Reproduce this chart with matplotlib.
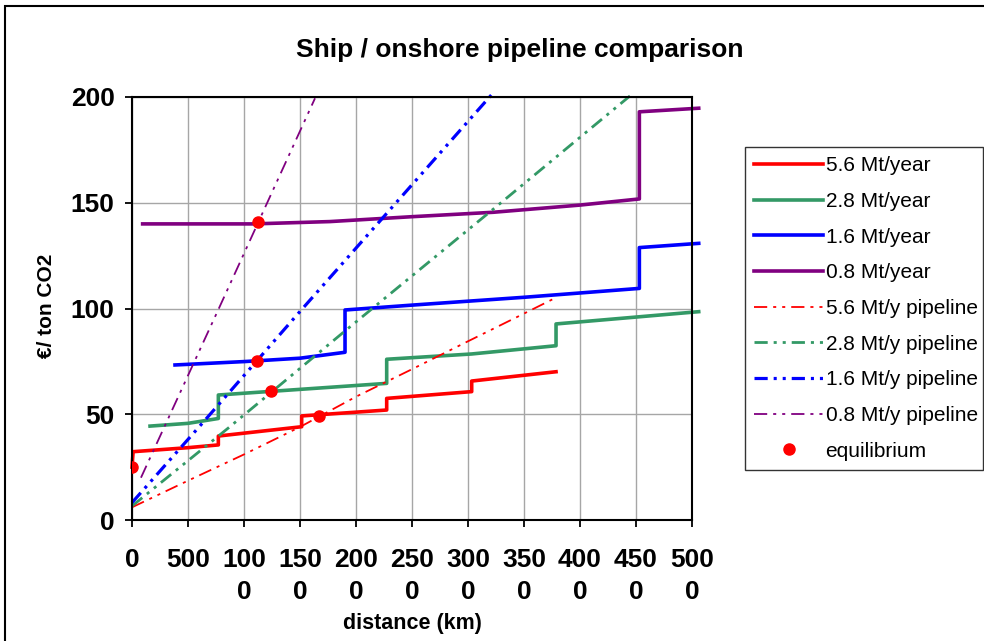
import matplotlib
matplotlib.use("Agg")
import matplotlib.pyplot as plt
from matplotlib.patches import Rectangle

plt.rcParams['font.family'] = ['Liberation Sans', 'DejaVu Sans']
plt.rcParams['lines.scale_dashes'] = False

# ship transport cost per capacity (step lines)
ship56_x = [0, 10, 500, 771, 771, 1515, 1515, 2274, 2274, 3033, 3033, 3786]
ship56_y = [25, 32.3, 34.2, 35.5, 39.7, 44.1, 49.2, 52.0, 57.5, 60.7, 65.7, 70.1]
ship28_x = [161, 500, 771, 771, 2274, 2274, 3033, 3786, 3786, 5060]
ship28_y = [44.4, 45.7, 48.0, 59.1, 64.6, 76.0, 78.5, 82.4, 92.7, 98.5]
ship16_x = [384, 1000, 1500, 1902, 1902, 2500, 3500, 4530, 4530, 5060]
ship16_y = [73.3, 74.9, 76.5, 79.3, 99.3, 101.6, 105.3, 109.5, 128.8, 130.8]
ship08_x = [95, 1083, 1768, 2497, 3226, 4000, 4530, 4530, 5060]
ship08_y = [140, 140, 141.1, 143.4, 145.5, 148.9, 151.8, 193, 194.7]

# onshore pipeline cost
pipe56_x = [0, 500, 1000, 1500, 2000, 2500, 3000, 3500, 3795]
pipe56_y = [6, 18.6, 31.0, 44.0, 58.3, 71.3, 84.5, 97.6, 105.4]
pipe28_x = [0, 860, 1916, 3226, 4446]
pipe28_y = [6.6, 43.5, 90.0, 147.0, 200.5]
pipe16_x = [0, 607, 1500, 3226]
pipe16_y = [8.2, 44.5, 98.6, 202]
pipe08_x = [80, 771, 1634]
pipe08_y = [20, 99.5, 199.4]

# equilibrium points
eq_x = [0, 1673, 1241, 1113, 1128]
eq_y = [25, 49.3, 61.1, 75.3, 141]

xticks = [0, 500, 1000, 1500, 2000, 2500, 3000, 3500, 4000, 4500, 5000]
xlabels = ['0', '500', '100\n0', '150\n0', '200\n0', '250\n0', '300\n0',
           '350\n0', '400\n0', '450\n0', '500\n0']
yticks = [0, 50, 100, 150, 200]

red = '#FF0000'
green = '#339966'
blue = '#0000FF'
purple = '#800080'
dash = (0, (9.5, 4.3, 2.2, 4.3, 2.2, 4.3))

fig = plt.figure(figsize=(9.84, 6.41), dpi=100)
fig.patches.append(Rectangle((5 / 984, -0.2), 1.2, 1.2 - 6 / 641,
                             transform=fig.transFigure, fill=False,
                             edgecolor='black', linewidth=1.5))
ax = fig.add_axes([132 / 984, 1 - 520 / 641, 560 / 984, 423 / 641])

ax.plot(ship56_x, ship56_y, color=red, lw=2.6, label='5.6 Mt/year', clip_on=False)
ax.plot(ship28_x, ship28_y, color=green, lw=2.6, label='2.8 Mt/year', clip_on=False)
ax.plot(ship16_x, ship16_y, color=blue, lw=2.6, label='1.6 Mt/year', clip_on=False)
ax.plot(ship08_x, ship08_y, color=purple, lw=2.6, label='0.8 Mt/year', clip_on=False)
ax.plot(pipe56_x, pipe56_y, color=red, lw=1.3, linestyle=dash,
        label='5.6 Mt/y pipeline', clip_on=False)
ax.plot(pipe28_x, pipe28_y, color=green, lw=2.0, linestyle=dash,
        label='2.8 Mt/y pipeline', clip_on=False)
ax.plot(pipe16_x, pipe16_y, color=blue, lw=2.3, linestyle=dash,
        label='1.6 Mt/y pipeline', clip_on=False)
ax.plot(pipe08_x, pipe08_y, color=purple, lw=1.3, linestyle=dash,
        label='0.8 Mt/y pipeline', clip_on=False)
ax.plot(eq_x, eq_y, 'o', color=red, markersize=8, label='equilibrium', zorder=5)

ax.set_xlim(0, 5000)
ax.set_ylim(0, 200)
ax.set_xticks(xticks)
ax.set_xticklabels(xlabels, fontsize=19, fontweight='bold')
ax.set_yticks(yticks)
ax.set_yticklabels([str(v) for v in yticks], fontsize=19, fontweight='bold')
for t in ax.get_xticklabels():
    t.set_linespacing(1.45)
ax.tick_params(axis='x', length=5, width=1.3, pad=15)
ax.tick_params(axis='y', length=5, width=1.3, pad=7.5)
ax.grid(True, color='#A6A6A6', linewidth=1)
ax.set_axisbelow(True)
for s in ax.spines.values():
    s.set_linewidth(1.5)

fig.text(520 / 984, 1 - 50 / 641, 'Ship / onshore pipeline comparison',
         ha='center', va='center', fontsize=19, fontweight='bold')
fig.text(412 / 984, 1 - 623 / 641, 'distance (km)', ha='center', va='center',
         fontsize=15.5, fontweight='bold')
fig.text(47 / 984, 1 - 306 / 641, '€/ ton CO2', ha='center', va='center',
         rotation=90, fontsize=15, fontweight='bold')

leg = ax.legend(loc='upper left', bbox_to_anchor=(745 / 984, 1 - 147 / 641, 238 / 984, 0),
                bbox_transform=fig.transFigure, mode='expand', borderaxespad=0,
                fontsize=15, frameon=True, fancybox=False, handlelength=3.3,
                handletextpad=0.12, labelspacing=0.8, borderpad=0.45)
leg.get_frame().set_edgecolor('black')
leg.get_frame().set_linewidth(1)

fig.savefig('out.png', dpi=100)
